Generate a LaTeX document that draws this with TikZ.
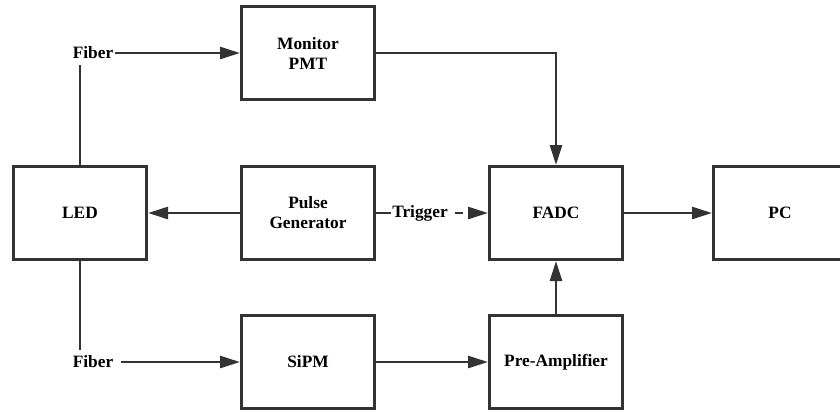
\documentclass[tikz,border=0pt]{standalone}
\usepackage{fontspec}
\setmainfont{Liberation Serif}
\usetikzlibrary{positioning,calc}
\usetikzlibrary{arrows.meta}

\begin{document}
\begin{tikzpicture}[x=0.75pt, y=-0.75pt,
    blk/.style={draw=black!80, line width=2pt, minimum width=100pt, minimum height=70pt,
                align=center, font=\fontsize{13}{15}\selectfont\bfseries},
    lbl/.style={inner xsep=1pt, inner ysep=4pt, font=\fontsize{13}{15}\selectfont\bfseries},
    wire/.style={draw=black!80, line width=2pt},
    link/.style={wire, -{Triangle[length=15pt,width=9pt]}}]
  % \draw[step=20, gray!20!white, very thin] (0,0) grid (840,412);
  \useasboundingbox (0,0) rectangle (840,412);

  \node[blk] (pmt)    at (308, 53)  {Monitor\\PMT};
  \node[blk] (led)    at (80, 213)  {LED};
  \node[blk] (pulse)  at (308, 213) {Pulse\\Generator};
  \node[blk] (fadc)   at (556, 213) {FADC};
  \node[blk] (pc)     at (780, 213) {PC};
  \node[blk] (sipm)   at (308, 362) {SiPM};
  \node[blk] (preamp) at (556, 362) {Pre-Amplifier};

  \node[lbl] (fibtop) at (93, 53)  {Fiber};
  \node[lbl] (fibbot) at (93, 362) {Fiber};
  \node[lbl, fill=white] (trig) at (420, 213) {Trigger};

  % light path from the LED
  \draw[wire] (led.north) -- (led.north |- fibtop.south);
  \draw[link] (fibtop.east) -- (fibtop.east -| pmt.west);
  \draw[wire] (led.south) -- (led.south |- fibbot.north);
  \draw[link, shorten <=5pt] (fibbot.east) -- (fibbot.east -| sipm.west);

  % signals
  \draw[link] (pulse.west) -- (led.east);
  \draw[wire] (pulse.east) -- (pulse.east -| trig.west);
  \draw[link, dash pattern={on 0pt off 4.5pt on 6pt off 20pt}] (pulse.east -| trig.east) -- (fadc.west);
  \draw[link] (pmt.east) -| (fadc.north);
  \draw[link] (sipm.east) -- (preamp.west);
  \draw[link] (preamp.north) -- (fadc.south);
  \draw[link] (fadc.east) -- (pc.west);

\end{tikzpicture}
\end{document}
